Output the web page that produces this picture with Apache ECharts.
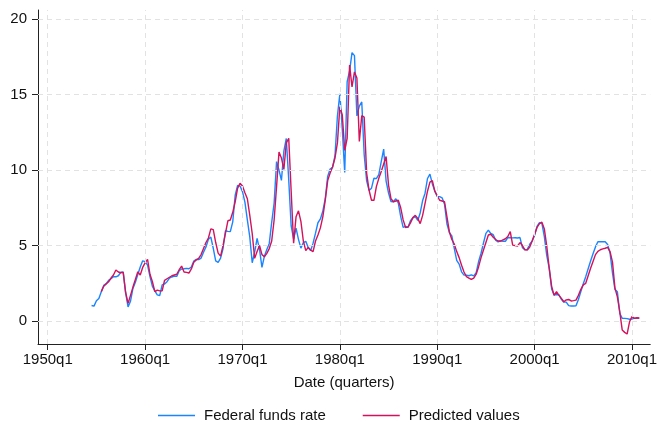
<!DOCTYPE html>
<html>
<head>
<meta charset="utf-8">
<script src="https://cdn.jsdelivr.net/npm/echarts@6/dist/echarts.min.js"></script>
<style>
  html, body { margin: 0; padding: 0; background: #fff; }
  #chart { width: 660px; height: 422px; }
</style>
</head>
<body>
<div id="chart"></div>
<script>
// Quarterly index: 0 = 1950q1
const FF_START = 18;   // 1954q3
const PRED_START = 22; // 1955q3

// Effective federal funds rate, quarterly averages (percent)
const fedFunds = [
  1.03, 0.99,
  1.34, 1.50, 1.94, 2.36,
  2.48, 2.69, 2.81, 2.93,
  2.93, 3.00, 3.23, 3.25,
  1.86, 0.94, 1.32, 2.16,
  2.57, 3.08, 3.58, 3.99,
  3.93, 3.70, 2.94, 2.30,
  2.00, 1.73, 1.68, 2.40,
  2.46, 2.61, 2.85, 2.92,
  2.97, 2.96, 3.33, 3.45,
  3.46, 3.49, 3.46, 3.58,
  3.97, 4.08, 4.07, 4.17,
  4.56, 4.91, 5.41, 5.56,
  4.82, 3.99, 3.89, 4.17,
  4.79, 5.98, 5.94, 5.92,
  6.57, 8.33, 8.98, 8.94,
  8.57, 7.88, 6.70, 5.57,
  3.86, 4.56, 5.47, 4.75,
  3.55, 4.30, 4.74, 5.14,
  6.54, 7.82, 10.56, 10.00,
  9.32, 11.25, 12.09, 9.35,
  6.30, 5.42, 6.16, 5.41,
  4.83, 5.20, 5.28, 4.87,
  4.66, 5.16, 5.82, 6.51,
  6.76, 7.28, 8.10, 9.58,
  10.07, 10.18, 10.95, 13.58,
  15.05, 12.69, 9.84, 15.85,
  16.57, 17.78, 17.58, 13.59,
  14.23, 14.51, 11.01, 9.29,
  8.65, 8.80, 9.46, 9.43,
  9.69, 10.56, 11.39, 9.27,
  8.48, 7.92, 7.90, 8.10,
  7.83, 6.92, 6.21, 6.27,
  6.22, 6.65, 6.84, 6.92,
  6.66, 7.16, 7.98, 8.47,
  9.44, 9.73, 9.08, 8.61,
  8.25, 8.24, 8.16, 7.74,
  6.43, 5.86, 5.64, 4.82,
  4.02, 3.77, 3.26, 3.04,
  3.04, 3.00, 3.06, 2.99,
  3.21, 3.94, 4.49, 5.17,
  5.81, 6.02, 5.80, 5.72,
  5.36, 5.24, 5.31, 5.28,
  5.28, 5.52, 5.53, 5.51,
  5.52, 5.50, 5.53, 4.86,
  4.73, 4.75, 5.09, 5.31,
  5.68, 6.27, 6.52, 6.47,
  5.59, 4.33, 3.50, 2.13,
  1.73, 1.75, 1.74, 1.44,
  1.25, 1.25, 1.02, 1.00,
  1.00, 1.01, 1.43, 1.95,
  2.47, 2.94, 3.46, 3.98,
  4.46, 4.91, 5.25, 5.25,
  5.26, 5.25, 5.07, 4.50,
  3.18, 2.09, 1.94, 0.51,
  0.18, 0.18, 0.16, 0.12,
  0.13, 0.19, 0.19, 0.19
];

// Fitted values from the regression
const predicted = [
  1.95, 2.30,
  2.45, 2.60, 2.85, 3.05,
  3.38, 3.25, 3.20, 3.22,
  1.90, 1.17, 1.70, 2.25,
  2.75, 3.26, 3.05, 3.55,
  3.85, 4.08, 3.10, 2.60,
  1.95, 2.05, 2.00, 2.00,
  2.70, 2.80, 2.90, 3.00,
  3.05, 3.10, 3.40, 3.64,
  3.25, 3.22, 3.18, 3.45,
  3.90, 4.05, 4.15, 4.40,
  4.80, 5.20, 5.50, 6.10,
  6.05, 5.20, 4.50, 4.30,
  5.00, 5.80, 6.64, 6.69,
  7.20, 7.90, 8.80, 9.12,
  8.95, 8.50, 8.10, 7.00,
  5.80, 4.15, 4.60, 5.00,
  4.40, 4.26, 4.48, 4.80,
  5.30, 6.69, 8.90, 11.20,
  10.80, 10.04, 11.80, 12.10,
  8.60, 5.15, 6.90, 7.30,
  6.60, 5.30, 4.66, 4.88,
  4.70, 4.60, 5.30, 5.70,
  6.17, 6.90, 8.00, 9.30,
  9.80, 10.20, 10.80, 11.80,
  14.20, 13.65, 11.30, 12.10,
  16.95, 15.50, 16.50, 16.10,
  11.90, 13.60, 13.50, 9.80,
  8.66, 8.00, 8.00, 8.90,
  9.45, 9.90, 10.40, 10.90,
  9.00, 8.10, 7.90, 7.95,
  8.00, 7.50, 6.70, 6.20,
  6.22, 6.50, 6.85, 7.00,
  6.80, 6.45, 7.00, 7.80,
  8.60, 9.20, 9.30, 8.60,
  8.30, 8.00, 7.95, 7.90,
  6.90, 5.90, 5.40, 5.10,
  4.60, 4.20, 3.70, 3.25,
  2.94, 2.85, 2.76, 2.85,
  3.10, 3.60, 4.20, 4.70,
  5.20, 5.70, 5.75, 5.55,
  5.40, 5.30, 5.30, 5.38,
  5.45, 5.60, 5.92, 5.03,
  5.00, 4.97, 5.20, 5.00,
  4.72, 4.70, 4.90, 5.30,
  5.75, 6.20, 6.45, 6.55,
  6.10, 4.95, 3.50, 2.30,
  1.70, 1.94, 1.70, 1.50,
  1.28, 1.40, 1.43, 1.33,
  1.35, 1.39, 1.70, 2.10,
  2.40, 2.50, 3.00, 3.50,
  3.95, 4.40, 4.62, 4.72,
  4.78, 4.82, 4.88, 4.60,
  3.90, 2.20, 1.60, 0.60,
  -0.60, -0.75, -0.86, -0.05,
  0.29, 0.18, 0.22, 0.20
];

const xTickValues = [0, 40, 80, 120, 160, 200, 240];
const xTickLabels = ['1950q1', '1960q1', '1970q1', '1980q1', '1990q1', '2000q1', '2010q1'];
const yTickValues = [0, 5, 10, 15, 20];

const FONT = '"Liberation Sans", Arial, sans-serif';
const GRID_COLOR = '#e2e2e2';
const AXIS_COLOR = '#222';

function toPairs(start, values) {
  return values.map((v, i) => [start + i, v]);
}

function quarterLabel(q) {
  const idx = xTickValues.indexOf(q);
  if (idx >= 0) return xTickLabels[idx];
  const year = 1950 + Math.floor(q / 4);
  return year + 'q' + ((q % 4 + 4) % 4 + 1);
}

const chart = echarts.init(document.getElementById('chart'), null, { renderer: 'canvas' });

chart.setOption({
  animation: false,
  backgroundColor: '#fff',
  textStyle: { fontFamily: FONT },
  grid: { left: 38, right: 6, top: 10, bottom: 78, containLabel: false },
  xAxis: {
    type: 'value',
    min: -4,
    max: 247.5,
    name: 'Date (quarters)',
    nameLocation: 'middle',
    nameGap: 31,
    nameTextStyle: { fontSize: 15, color: '#111', fontFamily: FONT },
    axisLine: { show: true, onZero: false, lineStyle: { color: AXIS_COLOR, width: 1 } },
    axisTick: { show: true, length: 6, customValues: xTickValues, lineStyle: { color: AXIS_COLOR } },
    axisLabel: {
      customValues: xTickValues,
      formatter: v => quarterLabel(v),
      fontSize: 15, color: '#111', margin: 8, fontFamily: FONT
    },
    splitLine: { show: false }
  },
  yAxis: {
    type: 'value',
    min: -1.52,
    max: 20.6,
    axisLine: { show: true, onZero: false, lineStyle: { color: AXIS_COLOR, width: 1 } },
    axisTick: { show: true, length: 6, customValues: yTickValues, lineStyle: { color: AXIS_COLOR } },
    axisLabel: {
      customValues: yTickValues,
      fontSize: 15, color: '#111', margin: 11, fontFamily: FONT
    },
    splitLine: { show: false }
  },
  legend: {
    left: 153,
    top: 403,
    itemWidth: 37,
    itemHeight: 1.5,
    itemGap: 37,
    icon: 'rect',
    textStyle: { fontSize: 15, color: '#111', fontFamily: FONT, padding: [0, 0, 0, 4] },
    data: ['Federal funds rate', 'Predicted values']
  },
  series: [
    {
      // dashed reference grid at the major ticks
      type: 'line',
      data: [],
      silent: true,
      z: 1,
      markLine: {
        silent: true,
        symbol: 'none',
        label: { show: false },
        lineStyle: { color: GRID_COLOR, type: [5, 4], width: 1 },
        data: xTickValues.map(v => ({ xAxis: v }))
          .concat(yTickValues.map(v => ({ yAxis: v })))
      }
    },
    {
      name: 'Federal funds rate',
      type: 'line',
      z: 3,
      showSymbol: false,
      data: toPairs(FF_START, fedFunds),
      itemStyle: { color: '#1a85ff' },
      lineStyle: { color: '#1a85ff', width: 1.4 }
    },
    {
      name: 'Predicted values',
      type: 'line',
      z: 4,
      showSymbol: false,
      data: toPairs(PRED_START, predicted),
      itemStyle: { color: '#d41159' },
      lineStyle: { color: '#d41159', width: 1.4 }
    }
  ]
});
</script>
</body>
</html>
